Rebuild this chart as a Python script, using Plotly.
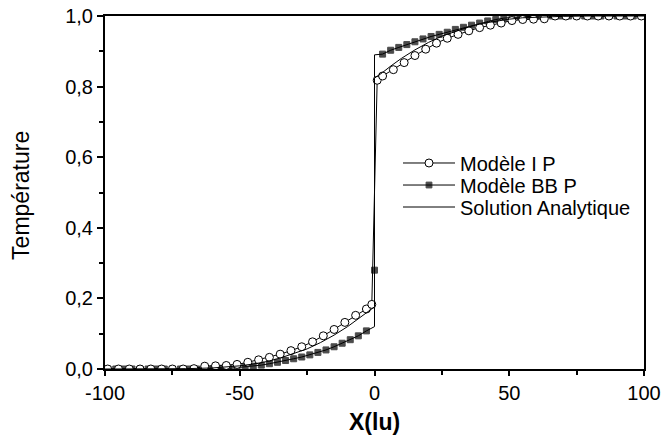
import plotly.graph_objects as go

# ---------------- data ----------------
ip_x = [-99, -95, -91, -87, -83, -79, -75, -71, -67, -63, -59, -55, -51, -47, -43, -39,
        -35, -31, -27, -23, -19, -15, -11, -7, -3, -1,
        1, 3, 7, 11, 15, 19, 23, 27, 31, 35, 39, 43, 47, 51, 55, 59, 63, 67, 71, 75,
        79, 83, 87, 91, 95, 99]
ip_y = [0, 0, 0, 0, 0, 0, 0, 0, 0.001, 0.008, 0.009, 0.010, 0.013, 0.019, 0.026, 0.033,
        0.042, 0.052, 0.063, 0.077, 0.094, 0.112, 0.132, 0.152, 0.170, 0.183,
        0.818, 0.830, 0.848, 0.868, 0.888, 0.906, 0.923, 0.937, 0.948, 0.958, 0.967,
        0.974, 0.980, 0.987, 0.990, 0.991, 0.992, 1.0, 1.0, 1.0,
        1.0, 1.0, 1.0, 1.0, 1.0, 1.0]

bb_x = [-99, -96, -93, -90, -87, -84, -81, -78, -75, -72, -69, -66, -63, -60,
        -57, -54, -51, -48, -45, -42, -39, -36, -33, -30, -27, -24, -21, -18, -15,
        -12, -9, -6, -3, 0, 0, 0,
        3, 6, 9, 12, 15, 18, 21, 24, 27, 30, 33, 36, 39, 42, 45, 48, 51, 54, 57,
        60, 63, 66, 69, 72, 75, 78, 81, 84, 87, 90, 93, 96, 99]
bb_y = [0, 0, 0, 0, 0, 0, 0, 0, 0, 0, 0, 0, 0, 0,
        0.001, 0.002, 0.004, 0.006, 0.008, 0.011, 0.015, 0.019, 0.024, 0.029, 0.034,
        0.040, 0.047, 0.054, 0.063, 0.073, 0.083, 0.094, 0.108, 0.120, 0.280, 0.890,
        0.892, 0.903, 0.911, 0.919, 0.927, 0.935, 0.942, 0.948, 0.954, 0.962, 0.968,
        0.974, 0.980, 0.986, 0.990, 0.994, 0.996, 0.998, 0.999,
        1.0, 1.0, 1.0, 1.0, 1.0, 1.0, 1.0, 1.0, 1.0, 1.0, 1.0, 1.0, 1.0, 1.0]
# interface vertices that carry the line only (no visible marker)
bb_hidden = [(0, 0.120), (0, 0.890)]

an_x = [-100, -80, -70, -60, -55, -50, -45, -40, -35, -30, -25, -20, -15, -10, -6, -3, -1,
        0, 0, 1, 3, 6, 10, 15, 20, 25, 30, 35, 40, 45, 50, 55, 60, 70, 80, 100]
an_y = [0, 0, 0.001, 0.003, 0.005, 0.009, 0.014, 0.021, 0.031, 0.043, 0.057, 0.075,
        0.096, 0.120, 0.142, 0.160, 0.171, 0.176, 0.824, 0.829, 0.840, 0.858, 0.880,
        0.904, 0.925, 0.943, 0.957, 0.969, 0.979, 0.986, 0.991, 0.995, 0.997, 0.999,
        1.0, 1.0]

x_ticks = [-100, -50, 0, 50, 100]
x_ticktext = ["-100", "-50", "0", "50", "100"]
y_ticks = [0.0, 0.2, 0.4, 0.6, 0.8, 1.0]
y_ticktext = ["0,0", "0,2", "0,4", "0,6", "0,8", "1,0"]

FONT = "Liberation Sans, Arial, sans-serif"
TICK_SIZE = 20
LEG_SIZE = 20
TITLE_SIZE = 23

bb_sizes = [0 if (x, y) in bb_hidden else 6 for x, y in zip(bb_x, bb_y)]
bb_lw = [0 if (x, y) in bb_hidden else 1 for x, y in zip(bb_x, bb_y)]

fig = go.Figure()
fig.add_trace(go.Scatter(
    x=bb_x, y=bb_y, mode="lines+markers", name="Modèle BB P", legend="legend2",
    line=dict(color="black", width=1),
    marker=dict(symbol="square", size=bb_sizes, color="black",
                line=dict(color="black", width=bb_lw))))
fig.add_trace(go.Scatter(
    x=ip_x, y=ip_y, mode="lines+markers", name="Modèle I P", legend="legend",
    line=dict(color="black", width=1),
    marker=dict(symbol="circle", size=8, color="white",
                line=dict(color="black", width=1))))
fig.add_trace(go.Scatter(
    x=an_x, y=an_y, mode="lines", name="Solution Analytique", legend="legend3",
    line=dict(color="black", width=1)))

leg_common = dict(x=0.5436, xanchor="left", yanchor="middle",
                  bgcolor="rgba(0,0,0,0)", borderwidth=0,
                  font=dict(family=FONT, size=LEG_SIZE, color="black"),
                  itemwidth=52)

fig.update_layout(
    width=665, height=440,
    margin=dict(l=105, r=21, t=16, b=71, autoexpand=False),
    paper_bgcolor="white", plot_bgcolor="white",
    font=dict(family=FONT, size=TICK_SIZE, color="black"),
    showlegend=True,
    legend=dict(y=0.5836, **leg_common),
    legend2=dict(y=0.5212, **leg_common),
    legend3=dict(y=0.4589, **leg_common),
    annotations=[
        dict(text="<b>X(lu)</b>", xref="paper", yref="paper", x=0.5, y=-0.150,
             xanchor="center", yanchor="middle", showarrow=False,
             font=dict(family=FONT, size=TITLE_SIZE, color="black")),
        dict(text="Température", xref="paper", yref="paper", x=-0.156, y=0.493,
             xanchor="center", yanchor="middle", showarrow=False, textangle=-90,
             font=dict(family=FONT, size=TITLE_SIZE, color="black")),
    ],
)
fig.update_xaxes(
    range=[-100, 100], showgrid=False, zeroline=False, automargin=False,
    showline=True, linecolor="black", linewidth=2, mirror=True,
    ticks="outside", ticklen=5, tickwidth=2, tickcolor="black",
    tickmode="array", tickvals=x_ticks, ticktext=x_ticktext,
    tickfont=dict(family=FONT, size=TICK_SIZE, color="black"),
    minor=dict(dtick=25, tick0=-100, ticks="outside", ticklen=4,
               tickwidth=2, tickcolor="black", showgrid=False),
)
fig.update_yaxes(
    range=[0, 1], showgrid=False, zeroline=False, automargin=False,
    showline=True, linecolor="black", linewidth=2, mirror=True,
    ticks="outside", ticklen=6, tickwidth=2, tickcolor="black",
    tickmode="array", tickvals=y_ticks, ticktext=y_ticktext,
    tickfont=dict(family=FONT, size=TICK_SIZE, color="black"),
    minor=dict(dtick=0.1, tick0=0, ticks="outside", ticklen=4,
               tickwidth=2, tickcolor="black", showgrid=False),
)

fig.write_html("out.html",
               config={"displayModeBar": False, "staticPlot": True},
               post_script="document.body.style.margin='0px';"
                           "document.body.style.padding='0px';")
